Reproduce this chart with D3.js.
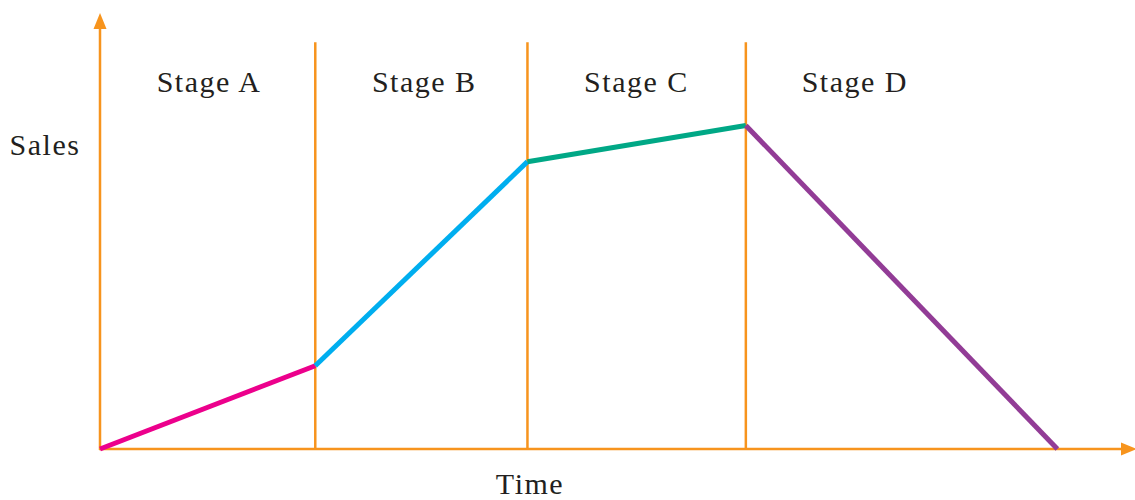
<!DOCTYPE html>
<html lang="en">
<head>
<meta charset="utf-8" />
<script src="https://d3js.org/d3.v7.min.js"></script>
<style>
  body { margin: 0; background: #fff; }
  text { font-family: "Liberation Serif", "DejaVu Serif", serif; fill: #231f20; }
</style>
</head>
<body>
<svg id="chart"></svg>
<script>
var w = 1135, h = 500;

// product life cycle
var stages = ['Stage A', 'Stage B', 'Stage C', 'Stage D'];
var boundaries = [0, 20.8, 41.3, 62.4];   // stage start times
var stageTop = 93.3;                       // height of divider lines
var times = [0, 20.8, 41.3, 62.4, 92.5];
var sales = [0, 19.1, 65.9, 74.2, 0];
var colors = ['#ec008c', '#00aeef', '#00a886', '#923c96'];

var axisColor = '#f7941d';

var svg = d3.select('#chart').attr('width', w).attr('height', h);

var x = d3.scaleLinear().domain([0, 100]).range([100, 1135]);
var y = d3.scaleLinear().domain([0, 100]).range([449, 13]);

// divider lines
svg.selectAll('line.div')
   .data(boundaries.slice(1))
   .enter()
   .append('line')
   .attr('class', 'div')
   .attr('x1', function(d) { return x(d); })
   .attr('x2', function(d) { return x(d); })
   .attr('y1', y(0))
   .attr('y2', y(stageTop))
   .attr('stroke', axisColor)
   .attr('stroke-width', 2.5);

// stage labels
svg.selectAll('text.stage')
   .data(stages)
   .enter()
   .append('text')
   .attr('class', 'stage')
   .attr('x', function(d, i) { return x(boundaries[i]) + 109; })
   .attr('y', 92)
   .attr('text-anchor', 'middle')
   .attr('font-size', 30)
   .attr('letter-spacing', 1.5)
   .text(function(d) { return d; });

// axes
svg.append('line')
   .attr('x1', x(0)).attr('x2', x(0))
   .attr('y1', y(0) + 1).attr('y2', 26)
   .attr('stroke', axisColor).attr('stroke-width', 2.5);
svg.append('path')
   .attr('d', 'M' + x(0) + ',13 L' + (x(0) - 6.5) + ',29 L' + (x(0) + 6.5) + ',29 Z')
   .attr('fill', axisColor);

svg.append('line')
   .attr('x1', x(0) - 1).attr('x2', 1124)
   .attr('y1', y(0)).attr('y2', y(0))
   .attr('stroke', axisColor).attr('stroke-width', 2.5);
svg.append('path')
   .attr('d', 'M1137,' + y(0) + ' L1121,' + (y(0) - 6.5) + ' L1121,' + (y(0) + 6.5) + ' Z')
   .attr('fill', axisColor);

// sales segments
var segs = d3.range(times.length - 1).map(function(i) {
    return [[times[i], sales[i]], [times[i + 1], sales[i + 1]]];
});
var line = d3.line()
   .x(function(d) { return x(d[0]); })
   .y(function(d) { return y(d[1]); });

svg.selectAll('path.seg')
   .data(segs)
   .enter()
   .append('path')
   .attr('class', 'seg')
   .attr('d', line)
   .attr('fill', 'none')
   .attr('stroke', function(d, i) { return colors[i]; })
   .attr('stroke-width', 5);

// axis titles
svg.append('text')
   .attr('x', 45).attr('y', 155)
   .attr('text-anchor', 'middle')
   .attr('font-size', 30)
   .attr('letter-spacing', 1.5)
   .text('Sales');

svg.append('text')
   .attr('x', 530).attr('y', 494)
   .attr('text-anchor', 'middle')
   .attr('font-size', 30)
   .attr('letter-spacing', 1.5)
   .text('Time');
</script>
</body>
</html>
